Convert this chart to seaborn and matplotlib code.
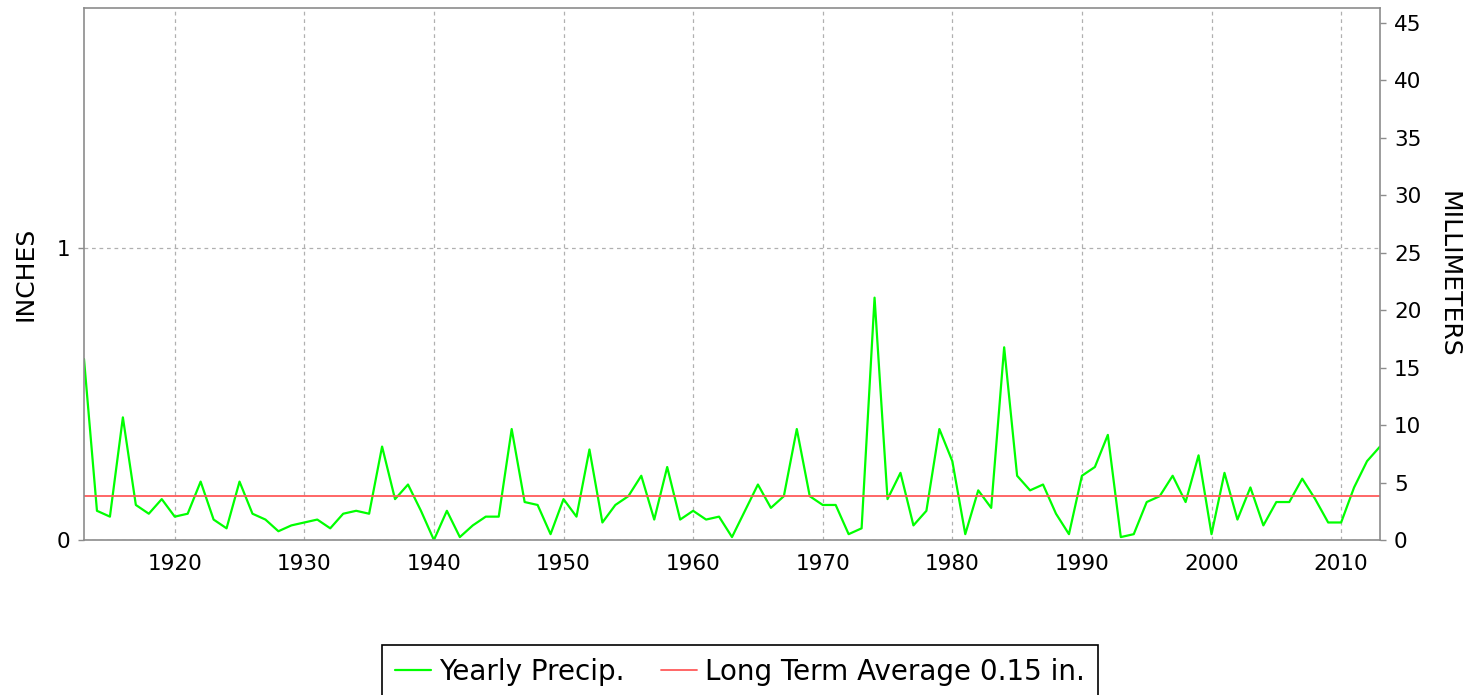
import numpy as np
import pandas as pd
import seaborn as sns
import matplotlib.pyplot as plt

# yearly precipitation (inches)
years = list(range(1913, 2014))
precip = [
    0.62, 0.10, 0.08, 0.42, 0.12, 0.09, 0.14, 0.08, 0.09, 0.20,  # 1913-1922
    0.07, 0.04, 0.20, 0.09, 0.07, 0.03, 0.05, 0.06, 0.07, 0.04,  # 1923-1932
    0.09, 0.10, 0.09, 0.32, 0.14, 0.19, 0.10, 0.00, 0.10, 0.01,  # 1933-1942
    0.05, 0.08, 0.08, 0.38, 0.13, 0.12, 0.02, 0.14, 0.08, 0.31,  # 1943-1952
    0.06, 0.12, 0.15, 0.22, 0.07, 0.25, 0.07, 0.10, 0.07, 0.08,  # 1953-1962
    0.01, 0.10, 0.19, 0.11, 0.15, 0.38, 0.15, 0.12, 0.12, 0.02,  # 1963-1972
    0.04, 0.83, 0.14, 0.23, 0.05, 0.10, 0.38, 0.27, 0.02, 0.17,  # 1973-1982
    0.11, 0.66, 0.22, 0.17, 0.19, 0.09, 0.02, 0.22, 0.25, 0.36,  # 1983-1992
    0.01, 0.02, 0.13, 0.15, 0.22, 0.13, 0.29, 0.02, 0.23, 0.07,  # 1993-2002
    0.18, 0.05, 0.13, 0.13, 0.21, 0.14, 0.06, 0.06, 0.18, 0.27,  # 2003-2012
    0.32,                                                        # 2013
]
long_term_avg = 0.15

df = pd.DataFrame({"year": years, "precip": precip})

sns.set_style("white")
plt.rcParams["font.family"] = ["DejaVu Sans"]
plt.rcParams["text.color"] = "black"
plt.rcParams["axes.labelcolor"] = "black"

fig = plt.figure(figsize=(14.8, 6.95), dpi=100)
ax = fig.add_axes([84 / 1480, 1 - 540 / 695, (1380 - 84) / 1480, (540 - 8) / 695])

sns.lineplot(data=df, x="year", y="precip", ax=ax, color="#00ff00",
             linewidth=1.6, label="Yearly Precip.", legend=False)
ax.axhline(long_term_avg, color="#ff5a5a", linewidth=1.3,
           label=f"Long Term Average {long_term_avg} in.")

ymax = 1.822
ax.set_xlim(1913, 2013)
ax.set_ylim(0, ymax)
ax.set_xticks(range(1920, 2011, 10))
ax.set_yticks([0, 1])
ax.grid(True, linestyle=(0, (3, 3)), color="#b0b0b0", linewidth=0.9)
ax.set_xlabel("")
ax.set_ylabel("INCHES", fontsize=18, labelpad=14)

for sp in ax.spines.values():
    sp.set_color("#8c8c8c")
    sp.set_linewidth(1.2)
ax.tick_params(axis="both", direction="out", length=4, width=1, color="#8c8c8c",
               labelcolor="black", labelsize=15.5, pad=6)

# millimeter axis on the right
ax2 = ax.twinx()
ax2.set_ylim(0, ymax * 25.4)
ax2.set_yticks(range(0, 46, 5))
ax2.set_ylabel("MILLIMETERS", fontsize=18, rotation=270, labelpad=28)
for sp in ax2.spines.values():
    sp.set_visible(False)
ax2.tick_params(axis="y", direction="out", length=4, width=1, color="#8c8c8c",
                labelcolor="black", labelsize=15.5, pad=6)

handles, labels = ax.get_legend_handles_labels()
leg = fig.legend(handles, labels, loc="upper center", bbox_to_anchor=(0.5, 1 - 645 / 695),
                 ncol=2, fontsize=20, frameon=True, fancybox=False, framealpha=1,
                 handlelength=1.3, handletextpad=0.3, columnspacing=1.3,
                 borderpad=0.45, borderaxespad=0)
leg.get_frame().set_edgecolor("black")
leg.get_frame().set_linewidth(1.2)

fig.savefig("out.png", dpi=100)
